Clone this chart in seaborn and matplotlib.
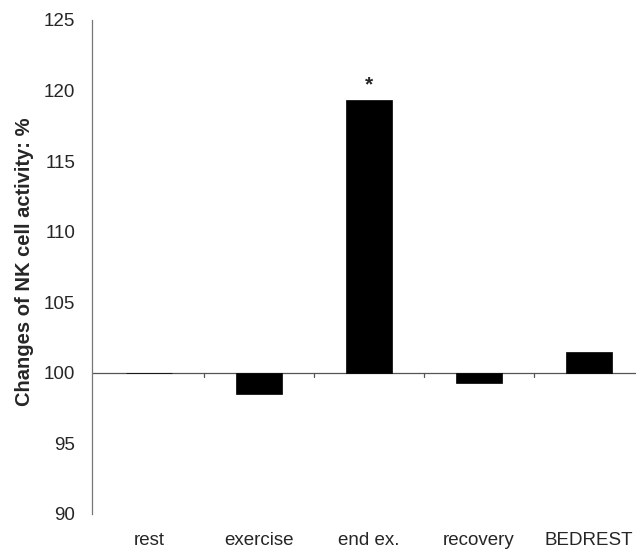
import numpy as np
import matplotlib
matplotlib.use("Agg")
import matplotlib.pyplot as plt
import seaborn as sns

# Data (baseline = 100 %)
categories = ["rest", "exercise", "end ex.", "recovery", "BEDREST"]
values = [100.0, 98.5, 119.3, 99.3, 101.5]
baseline = 100
significant = ["end ex."]

sns.set_style("white")
plt.rcParams['font.family'] = ['Liberation Sans', 'DejaVu Sans']

fig = plt.figure(figsize=(6.36, 5.55), dpi=100)
ax = fig.add_axes([92 / 636, 1 - 514 / 555, 1 - 92 / 636, 494 / 555])

# bars drawn from the 100 % baseline
heights = [v - baseline for v in values]
sns.barplot(x=categories, y=heights, bottom=baseline, color="black",
            width=0.42, saturation=1, edgecolor="black", linewidth=0.5, ax=ax)

ax.set_ylim(90, 125)
ax.set_yticks(np.arange(90, 126, 5))
ax.set_xlim(-0.52, 4.43)

# horizontal axis crossing at 100
ax.axhline(baseline, color="#555555", lw=0.9, zorder=0)
for xb in np.arange(0.5, 4.0, 1.0):
    ax.plot([xb, xb], [baseline, baseline - 0.3], color="#555555", lw=0.9)

# spines
for s in ["top", "right", "bottom"]:
    ax.spines[s].set_visible(False)
ax.spines["left"].set_color("#777777")
ax.spines["left"].set_linewidth(0.9)

ax.tick_params(axis="y", direction="out", length=5, width=0.9, color="#777777",
               labelsize=13.5, pad=7)
ax.tick_params(axis="x", length=0, labelsize=13.5, pad=13)
ax.set_xticks(range(len(categories)))
ax.set_xticklabels(categories)
ax.set_xlabel("")

ax.set_ylabel("Changes of NK cell activity: %", fontsize=14.5, fontweight="bold")
ax.yaxis.set_label_coords(-0.107, 0.51)

# significance marker
for cat in significant:
    i = categories.index(cat)
    ax.text(i, values[i] + 0.45, "*", ha="center", va="bottom", fontsize=15, fontweight="bold")

fig.savefig("out.png", dpi=100)
